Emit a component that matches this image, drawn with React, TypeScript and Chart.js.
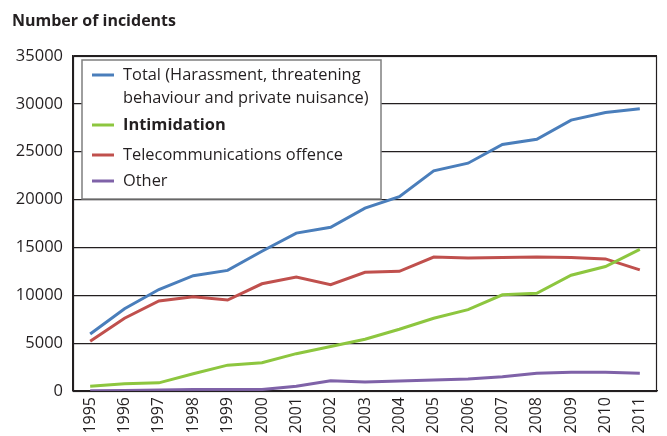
import React, { useEffect, useRef } from "react";
import { Chart, registerables } from "chart.js";

Chart.register(...registerables);

const years = ["1995","1996","1997","1998","1999","2000","2001","2002","2003","2004","2005","2006","2007","2008","2009","2010","2011"];
const total = [5950, 8600, 10600, 12050, 12600, 14600, 16500, 17100, 19100, 20300, 23000, 23800, 25750, 26300, 28300, 29100, 29500];
const intimidation = [500, 750, 850, 1800, 2700, 2950, 3900, 4650, 5400, 6450, 7600, 8500, 10050, 10200, 12100, 13000, 14800];
const telecom = [5200, 7600, 9400, 9850, 9500, 11200, 11900, 11100, 12400, 12500, 14000, 13900, 13950, 14000, 13950, 13800, 12650];
const other = [30, 60, 100, 150, 150, 150, 500, 1075, 950, 1050, 1150, 1250, 1500, 1850, 1950, 1950, 1850];

const yTicks = [0, 5000, 10000, 15000, 20000, 25000, 30000, 35000];
const titleText = "Number of incidents";
const legendItems = [
  { lines: ["Total (Harassment, threatening", "behaviour and private nuisance)"], color: "#4a7ebb", bold: false },
  { lines: ["Intimidation"], color: "#8dc63f", bold: true },
  { lines: ["Telecommunications offence"], color: "#c0504d", bold: false },
  { lines: ["Other"], color: "#7f62a8", bold: false },
];

const FONT = "'Open Sans', 'Noto Sans', sans-serif";

const overlayPlugin = {
  id: "overlay",
  afterDraw(chart: any) {
    const ctx = chart.ctx;
    const a = chart.chartArea;
    ctx.save();
    ctx.strokeStyle = "#231f20";
    ctx.lineWidth = 1.2;
    ctx.strokeRect(Math.round(a.left) + 0.5, Math.round(a.top) + 0.5, Math.round(a.right - a.left) - 1, Math.round(a.bottom - a.top));
    ctx.fillStyle = "#231f20";
    ctx.font = "bold 16px " + FONT;
    ctx.textBaseline = "alphabetic";
    ctx.textAlign = "left";
    ctx.fillText(titleText, 12, 26);
    const bx = 82, by = 60, bw = 299, bh = 139;
    ctx.fillStyle = "#ffffff";
    ctx.fillRect(bx, by, bw, bh);
    ctx.strokeStyle = "#7f7f7f";
    ctx.lineWidth = 1.5;
    ctx.strokeRect(bx, by, bw, bh);
    const rows = [[75, 98], [125], [155], [181]];
    legendItems.forEach((it, i) => {
      const ys = rows[i];
      ctx.strokeStyle = it.color;
      ctx.lineWidth = 3;
      ctx.beginPath();
      ctx.moveTo(92, ys[0]);
      ctx.lineTo(114, ys[0]);
      ctx.stroke();
      ctx.fillStyle = "#231f20";
      ctx.font = (it.bold ? "bold " : "") + "16.4px " + FONT;
      ctx.textBaseline = "middle";
      it.lines.forEach((ln, j) => ctx.fillText(ln, 123, ys[j]));
    });
    ctx.restore();
  },
};

export default function App() {
  const ref = useRef<HTMLCanvasElement>(null);
  useEffect(() => {
    if (!ref.current) return;
    const mk = (label: string, data: number[], color: string) => ({
      label, data, borderColor: color, backgroundColor: color,
      borderWidth: 3, pointRadius: 0, tension: 0, fill: false,
    });
    const chart = new Chart(ref.current, {
      type: "line",
      data: {
        labels: years,
        datasets: [
          mk(legendItems[1].lines[0], intimidation, legendItems[1].color),
          mk(legendItems[2].lines[0], telecom, legendItems[2].color),
          mk(legendItems[3].lines[0], other, legendItems[3].color),
          mk(legendItems[0].lines.join(" "), total, legendItems[0].color),
        ],
      },
      options: {
        animation: false,
        responsive: false,
        layout: { padding: { top: 56, left: 6, right: 10, bottom: 0 } },
        plugins: { legend: { display: false }, title: { display: false }, tooltip: { enabled: false } },
        scales: {
          x: {
            offset: true,
            grid: { display: false, drawTicks: false },
            border: { color: "#231f20", width: 1.2 },
            ticks: { color: "#231f20", font: { family: FONT, size: 16 }, maxRotation: 90, minRotation: 90, padding: 6, autoSkip: false },
            afterFit: (s: any) => { s.height = 45; },
          },
          y: {
            min: 0, max: 35000,
            afterBuildTicks: (s: any) => { s.ticks = yTicks.map((v) => ({ value: v })); },
            grid: { color: "#231f20", lineWidth: 1.2, drawTicks: false },
            border: { color: "#231f20", width: 1.2 },
            ticks: { color: "#231f20", font: { family: FONT, size: 16.5 }, padding: 10, callback: (v: any) => String(v) },
            afterFit: (s: any) => { s.width = 67; },
          },
        },
      },
      plugins: [overlayPlugin],
    });
    return () => chart.destroy();
  }, []);
  return (
    <div style={{ position: "absolute", left: 0, top: 0, width: 667, height: 436, background: "#fff" }}>
      <canvas ref={ref} width={667} height={436} style={{ display: "block", width: 667, height: 436 }} />
    </div>
  );
}
